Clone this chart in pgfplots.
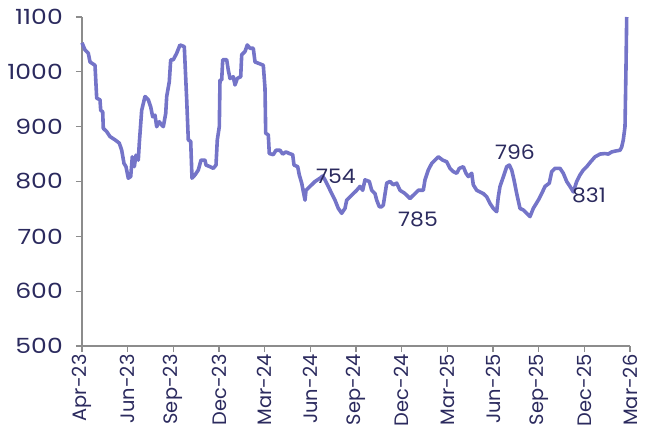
\documentclass[border=0pt]{standalone}
\usepackage{pgfplots}
\pgfplotsset{compat=1.18}
\usepackage{fontspec}
\setmainfont{Poppins}
\definecolor{navy}{HTML}{2B2A5E}
\definecolor{lineblue}{HTML}{7474C8}
\definecolor{axgray}{HTML}{8C8C8C}
\begin{document}
\begin{tikzpicture}
\begin{axis}[
  scale only axis, width=548bp, height=329bp,
  xmin=82, xmax=630, ymin=500, ymax=1100,
  axis lines=left, axis line style={-, axgray, line width=1.2bp},
  xtick={82,127.67,173.33,219,264.67,310.33,356,401.67,447.33,493,538.67,584.33,630},
  xticklabels={Apr-23,Jun-23,Sep-23,Dec-23,Mar-24,Jun-24,Sep-24,Dec-24,Mar-25,Jun-25,Sep-25,Dec-25,Mar-26},
  ytick={500,600,700,800,900,1000,1100},
  tick align=outside, major tick length=6bp,
  tick style={axgray, line width=1.2bp},
  xticklabel style={rotate=90, anchor=east, font=\fontsize{19.5}{19.5}\selectfont, xshift=1bp},
  yticklabel style={xshift=-9bp, font=\fontsize{21}{21}\selectfont, xscale=1.2},
  ticklabel style={text=navy},
  /pgf/number format/assume math mode=true,
  /pgf/number format/1000 sep={},
  clip=false,
]
\addplot[lineblue, line width=3.6bp, line join=round] coordinates {
(82,1053)(85,1040)(88.3,1034)(90,1018)(95,1012)(96.7,952)(100,949)(100.7,930)(102.7,927)(103.3,897)
(106.7,891)(110,882)(115,876)(119.3,870)(121.7,857)(124,833)(126,827)(128.3,806)(130.7,809)(132.3,845)
(134.3,827)(136,848)(138.3,839)(139.3,870)(141.7,930)(145,955)(148.3,949)(150.7,936)(152.7,918)(155,921)
(156.7,900)(159.3,909)(161.7,903)(163.3,900)(165.7,924)(166.7,955)(169.3,982)(170.7,1022)(173.3,1022)(176.7,1034)
(180,1049)(184.3,1046)(186.7,949)(188.3,876)(190.7,873)(192,806)(195,812)(198.3,821)(201,839)(205,839)
(206,830)(210,827)(213.3,824)(216,830)(217.3,876)(219.3,900)(220,985)(221.7,985)(222.7,1022)(226.7,1022)
(228.3,1003)(230,988)(233.3,991)(235,976)(237.3,988)(240.7,991)(241.7,1031)(245,1037)(247.3,1049)(250,1043)
(253.3,1043)(255,1018)(259.3,1015)(263.3,1012)(265,970)(265.7,888)(268.3,885)(269.3,851)(273.3,849)(276,857)
(280,857)(282.7,850)(286,854)(289.3,851)(292.7,849)(294,830)(297.7,827)(299.3,812)(301.7,797)(305,766)
(306,784)(310,791)(315,800)(320,806)(322.7,810)(325,803)(328.3,791)(331.7,778)(335,766)(338.3,751)
(341.7,742)(345,751)(346.7,766)(351.7,775)(356.7,784)(360,791)(362.7,784)(365,803)(369.3,800)(371.7,784)
(375,778)(376.7,766)(379.3,754)(381.7,754)(383.3,757)(386.7,797)(390,800)(393.3,794)(396.7,797)(400,784)
(405,778)(410,769)(415,778)(418.3,784)(423.3,784)(425,803)(428.3,821)(431.7,833)(435,839)(438.3,845)
(442.7,839)(446.7,836)(450,824)(453.3,818)(456.7,815)(459.3,824)(463.3,827)(466,815)(468.3,809)(471.7,815)
(473.3,794)(476.7,784)(480,781)(483.3,778)(486.7,772)(490,760)(493.3,751)(496.7,745)(498.3,772)(500,791)
(504,812)(506.7,827)(509.3,830)(511.7,821)(514,803)(516.7,778)(520,751)(523.3,748)(526.7,742)(530,736)
(533.3,751)(538.3,766)(541.7,778)(545,791)(549.3,797)(551.7,818)(555,824)(560,824)(563.3,815)(566.7,800)
(570,791)(573.3,781)(576.7,800)(580,812)(583.3,821)(586.7,827)(590.7,836)(595,845)(600,850)(605,851)
(608.3,850)(611.7,854)(616.7,856)(620,857)(621.7,863)(623.3,876)(625,900)(626,1009)(626.7,1100)
};
\node[text=navy, font=\fontsize{20}{20}\selectfont, xscale=1.1] at (axis cs:336,810) {754};
\node[text=navy, font=\fontsize{20}{20}\selectfont, xscale=1.1] at (axis cs:418,730) {785};
\node[text=navy, font=\fontsize{20}{20}\selectfont, xscale=1.1] at (axis cs:515,854) {796};
\node[text=navy, font=\fontsize{20}{20}\selectfont, xscale=1.1] at (axis cs:589,774) {831};
\end{axis}
\pgfresetboundingbox
\path[use as bounding box] (current axis.south west) ++(-82bp,-82bp) rectangle ++(648bp,428bp);
\end{tikzpicture}
\end{document}
